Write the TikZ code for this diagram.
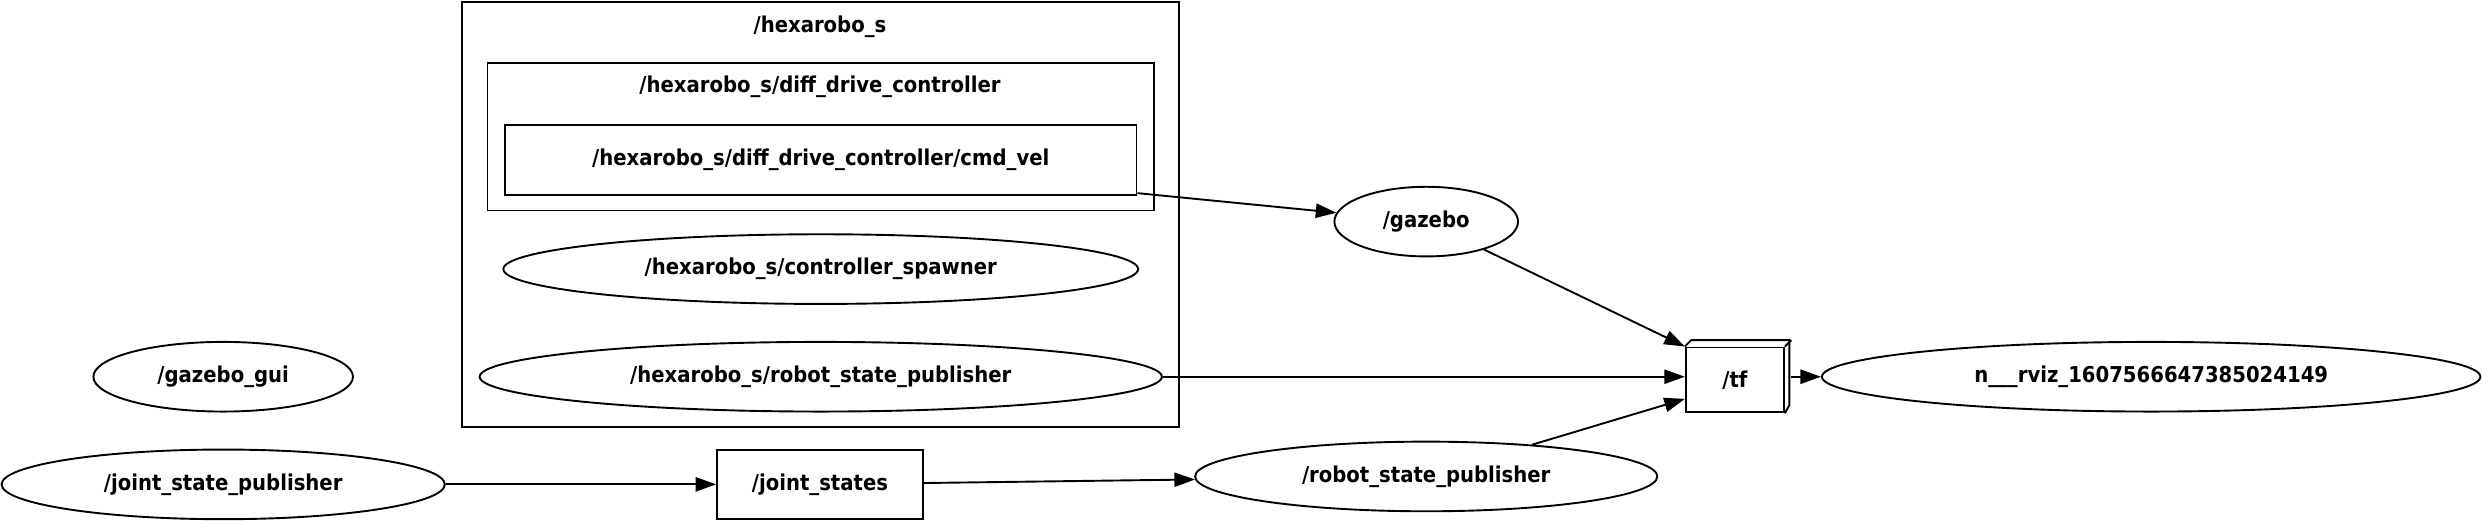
\documentclass[tikz,border=0pt]{standalone}
\usepackage{fontspec}
\setmainfont{DejaVu Sans Condensed}
\usepackage{tikz}
\usetikzlibrary{arrows.meta,shapes.geometric}
\tikzset{
	topic/.style={draw, rectangle, line width=1.2pt, inner sep=0pt, minimum height=44pt},
	rosnode/.style={draw, ellipse, line width=1.2pt, inner sep=0pt, minimum height=44pt},
	edge/.style={line width=1.2pt, -{Triangle[length=13pt,width=9pt]}},
	graphfont/.style={font=\fontsize{13.8}{16}\selectfont\bfseries}
}

\begin{document}
\begin{tikzpicture}[x=1pt, y=-1pt, graphfont]
	\useasboundingbox (0,0) rectangle (1568,329);
	% clusters
	\draw[line width=1.2pt] (292,1) rectangle (745,270);
	\node (hexlabel) at (518,17) {/hexarobo\_s};
	\draw[line width=1.2pt] (308,40) rectangle (729,133);
	\node (ddclabel) at (518,55) {/hexarobo\_s/diff\_drive\_controller};
	
	% topics
	\node[topic, minimum width=399pt] (cmdvel) at (518.5,101) {/hexarobo\_s/diff\_drive\_controller/cmd\_vel};
	\node[topic, minimum width=130pt] (jointstates) at (518,306) {/joint\_states};
	\node[topic, minimum width=62pt, minimum height=41pt] (tf) at (1096,240) {/tf};
	\draw[line width=1.2pt] (tf.north west) -- ++(4,-4) -- ++(62,0) -- ++(0,41) -- (tf.south east);
	\draw[line width=1.2pt] (tf.north east) -- ++(4,-4);
	
	% nodes
	\node[rosnode, minimum width=401pt] (spawner) at (518.5,170) {/hexarobo\_s/controller\_spawner};
	\node[rosnode, minimum width=431pt] (hexrsp) at (518.5,238) {/hexarobo\_s/robot\_state\_publisher};
	\node[rosnode, minimum width=164pt] (gazebogui) at (141,238) {/gazebo\_gui};
	\node[rosnode, minimum width=280pt] (jsp) at (141,306) {/joint\_state\_publisher};
	\node[rosnode, minimum width=116pt] (gazebo) at (901,140) {/gazebo};
	\node[rosnode, minimum width=292pt] (rsp) at (901,301) {/robot\_state\_publisher};
	\node[rosnode, minimum width=416pt] (rviz) at (1359,238) {n\_\_\_rviz\_1607566647385024149};
	
	% edges
	\draw[edge] (cmdvel.-6) -- (gazebo);
	\draw[edge] (gazebo) -- (tf.north west);
	\draw[edge] (hexrsp) -- (tf.west |- hexrsp);
	\draw[edge] (rsp) -- ([yshift=-12pt]tf.west);
	\draw[edge] ([xshift=4pt]tf.east |- rviz) -- (rviz);
	\draw[edge] (jsp) -- (jointstates);
	\draw[edge] (jointstates) -- (rsp);
\end{tikzpicture}
\end{document}
